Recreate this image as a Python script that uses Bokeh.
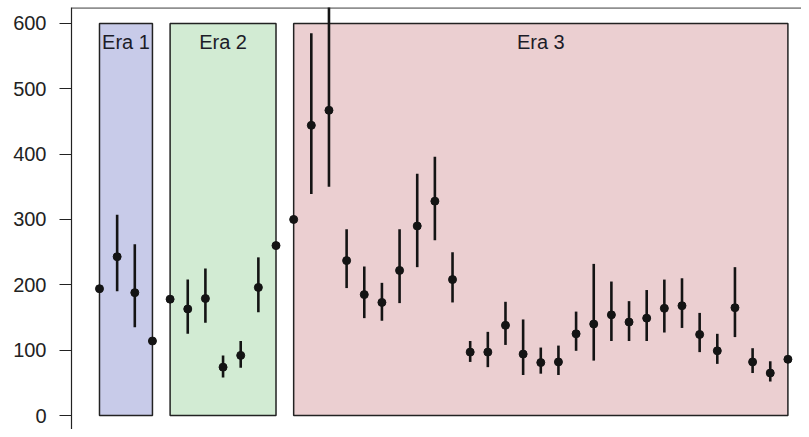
from bokeh.plotting import figure
from bokeh.models import ColumnDataSource, FixedTicker, Span, Range1d
from bokeh.core.properties import value
from bokeh.embed import file_html
from bokeh.resources import INLINE

# ---- data ----
idx = list(range(40))
means = [194, 243, 188, 114,
         178, 163, 179, 74, 92, 196, 260,
         300, 444, 467, 237, 185, 173, 222, 290, 328, 208, 97, 97, 138, 94, 81,
         82, 125, 140, 154, 143, 149, 164, 168, 124, 99, 165, 82, 65, 86]
lows = [194, 190, 135, 114,
        178, 125, 142, 58, 73, 158, 260,
        300, 339, 350, 195, 149, 145, 172, 227, 268, 173, 82, 74, 108, 62, 64,
        62, 99, 84, 114, 114, 114, 127, 134, 97, 79, 120, 65, 52, 86]
highs = [194, 307, 262, 114,
         178, 208, 225, 92, 114, 242, 260,
         300, 585, 660, 285, 228, 203, 285, 370, 396, 250, 114, 128, 174, 147, 104,
         107, 159, 232, 205, 175, 192, 208, 210, 157, 125, 227, 103, 83, 86]

era_names = ["Era 1", "Era 2", "Era 3"]
era_first = [0, 4, 11]
era_last = [3, 10, 39]
era_bottom = [0, 0, 0]
era_top = [600, 600, 600]
era_colors = ["#c8cbe9", "#d2ebd3", "#ebcfd1"]
y_ticks = [0, 100, 200, 300, 400, 500, 600]

W, H = 801, 429
p = figure(width=W, height=H, output_backend="svg", toolbar_location=None,
           x_range=Range1d(-1.586, 39.77), y_range=Range1d(-21.4, 624.3),
           min_border_left=71, min_border_right=0, min_border_top=7,
           min_border_bottom=0)
p.background_fill_color = "white"
p.border_fill_color = "white"
p.outline_line_color = None
p.grid.visible = False
p.xaxis.visible = False

yax = p.yaxis[0]
yax.ticker = FixedTicker(ticks=y_ticks)
yax.minor_tick_line_color = None
yax.major_tick_in = 0
yax.major_tick_out = 12
yax.major_tick_line_color = "#222222"
yax.major_tick_line_width = 1.2
yax.axis_line_color = "#222222"
yax.axis_line_width = 1.2
yax.major_label_standoff = 13
yax.major_label_text_font = "Liberation Sans"
yax.major_label_text_font_size = "20px"
yax.major_label_text_color = "#222222"

# top frame line
p.add_layout(Span(location=623.6, dimension="width", line_color="#222222",
                  line_width=1.2))

era_src = ColumnDataSource(dict(left=era_first, right=era_last,
                                bottom=era_bottom, top=era_top,
                                color=era_colors, name=era_names,
                                cx=[(a + b) / 2 for a, b in zip(era_first, era_last)],
                                ty=[571, 571, 571]))
p.quad(left="left", right="right", bottom="bottom", top="top",
       fill_color="color", line_color="#222222", line_width=1.5,
       source=era_src)
p.text(x="cx", y="ty", text="name", source=era_src,
       text_align="center", text_baseline="middle",
       text_font=value("Liberation Sans"), text_font_size="20px",
       text_color="#1c1c28")

src = ColumnDataSource(dict(x=idx, m=means, lo=lows, hi=highs))
p.segment(x0="x", y0="lo", x1="x", y1="hi", source=src,
          line_color="#141414", line_width=2.6)
p.scatter(x="x", y="m", source=src, size=8, fill_color="#141414",
          line_color="#141414")

open("out.html", "w").write(file_html(p, INLINE))
